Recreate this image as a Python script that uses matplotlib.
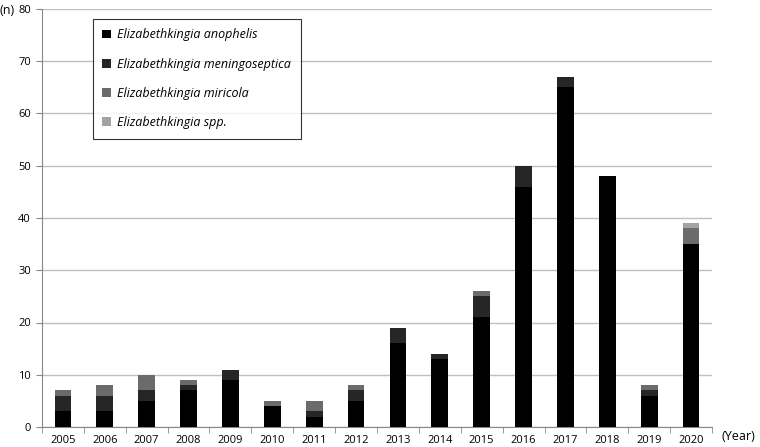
import numpy as np
import matplotlib.pyplot as plt
from matplotlib.patches import Patch

# Casos por año y especie
years = [str(y) for y in range(2005, 2021)]
anophelis = [3, 3, 5, 7, 9, 4, 2, 5, 16, 13, 21, 46, 65, 48, 6, 35]
meningoseptica = [3, 3, 2, 1, 2, 0, 1, 2, 3, 1, 4, 4, 2, 0, 1, 0]
miricola = [1, 2, 3, 1, 0, 1, 2, 1, 0, 0, 1, 0, 0, 0, 1, 3]
spp = [0, 0, 0, 0, 0, 0, 0, 0, 0, 0, 0, 0, 0, 0, 0, 1]

series = [anophelis, meningoseptica, miricola, spp]
names = ["Elizabethkingia anophelis", "Elizabethkingia meningoseptica",
         "Elizabethkingia miricola", "Elizabethkingia spp."]
colores = ["#000000", "#262626", "#6b6b6b", "#a3a3a3"]

plt.rcParams['font.family'] = ['Open Sans', 'DejaVu Sans']

fig = plt.figure(figsize=(7.6, 4.47), dpi=100)
ax = fig.add_axes([42/760, 20/447, 670/760, 418/447])

x = np.arange(len(years))
base = np.zeros(len(years))
for vals, nom, col in zip(series, names, colores):
    ax.bar(x, vals, 0.4, bottom=base, color=col, label=nom, zorder=3)
    base += np.array(vals)

ax.set_ylim(0, 80)
ax.set_yticks(range(0, 81, 10))
ax.set_xlim(-0.5, len(years) - 0.5)
ax.set_xticks(x)
ax.set_xticklabels(years, fontsize=8)
ax.tick_params(axis='x', length=0, pad=6)
ax.set_xticks(np.arange(-0.5, len(years), 1), minor=True)
ax.tick_params(axis='x', which='minor', length=4, color='#888888')
ax.tick_params(axis='y', length=4, color='#888888', labelsize=8, pad=4)
ax.grid(axis='y', color='#c0c0c0', linewidth=1, zorder=0)

for s in ['top', 'right']:
    ax.spines[s].set_visible(False)
ax.spines['left'].set_color('#888888')
ax.spines['bottom'].set_color('#888888')

handles = [Patch(facecolor=c, edgecolor='none') for c in colores]
leg = ax.legend(handles, names, loc='upper left', bbox_to_anchor=(0.076, 0.976),
                prop={'style': 'italic', 'size': 9}, frameon=True, fancybox=False,
                handlelength=0.7, handleheight=0.7, handletextpad=0.5,
                labelspacing=1.3, borderpad=0.75, borderaxespad=0)
leg.get_frame().set_edgecolor('black')
leg.get_frame().set_linewidth(0.8)

fig.text(0.0, 1 - 10/447, "(n)", fontsize=9, va='center', ha='left')
fig.text(721/760, 1 - 437/447, "(Year)", fontsize=9, va='center', ha='left')

plt.savefig("out.png", dpi=100)
